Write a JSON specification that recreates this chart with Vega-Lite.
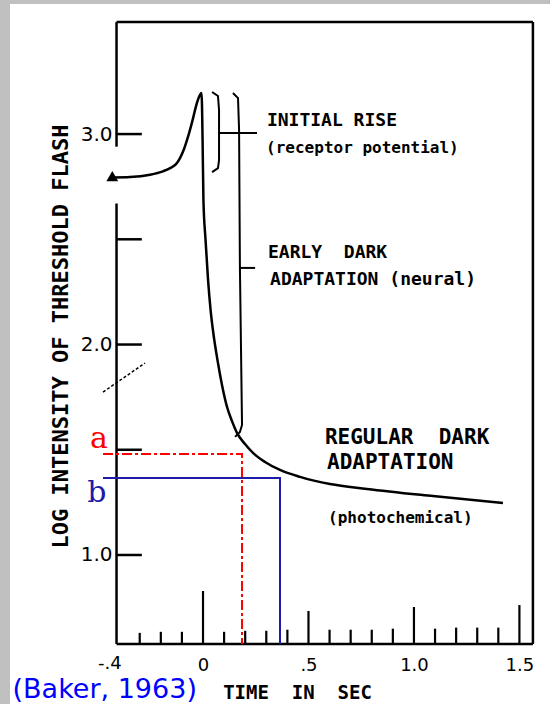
{
  "$schema": "https://vega.github.io/schema/vega-lite/v6.json",
  "width": 540,
  "height": 700,
  "autosize": "none",
  "padding": {"left": 10, "top": 4, "right": 0, "bottom": 0},
  "background": "#c0c0c0",
  "config": {"view": {"fill": "white", "stroke": null}},
  "datasets": {
    "frame": [
      {"x1": -0.41, "x2": 1.564, "y1": 3.532, "y2": 3.532},
      {"x1": -0.41, "x2": 1.564, "y1": 0.577, "y2": 0.577},
      {"x1": 1.564, "x2": 1.564, "y1": 0.577, "y2": 3.532},
      {"x1": -0.41, "x2": -0.41, "y1": 3.532, "y2": 2.94},
      {"x1": -0.41, "x2": -0.41, "y1": 2.67, "y2": 0.577},
      {"x1": -0.41, "x2": -0.29, "y1": 1.0, "y2": 1.0},
      {"x1": -0.41, "x2": -0.29, "y1": 1.5, "y2": 1.5},
      {"x1": -0.41, "x2": -0.29, "y1": 2.0, "y2": 2.0},
      {"x1": -0.41, "x2": -0.29, "y1": 2.5, "y2": 2.5},
      {"x1": -0.41, "x2": -0.29, "y1": 3.0, "y2": 3.0}
    ],
    "xticks": [
      {"t": -0.3, "base": 0.577, "top": 0.63}, {"t": -0.2, "base": 0.577, "top": 0.635}, {"t": -0.1, "base": 0.577, "top": 0.635},
      {"t": 0.0, "base": 0.577, "top": 0.829}, {"t": 0.1, "base": 0.577, "top": 0.635}, {"t": 0.2, "base": 0.577, "top": 0.64},
      {"t": 0.3, "base": 0.577, "top": 0.64}, {"t": 0.4, "base": 0.577, "top": 0.645}, {"t": 0.5, "base": 0.577, "top": 0.734},
      {"t": 0.6, "base": 0.577, "top": 0.645}, {"t": 0.7, "base": 0.577, "top": 0.645}, {"t": 0.8, "base": 0.577, "top": 0.645},
      {"t": 0.9, "base": 0.577, "top": 0.65}, {"t": 1.0, "base": 0.577, "top": 0.753}, {"t": 1.1, "base": 0.577, "top": 0.65},
      {"t": 1.2, "base": 0.577, "top": 0.655}, {"t": 1.3, "base": 0.577, "top": 0.655}, {"t": 1.4, "base": 0.577, "top": 0.655},
      {"t": 1.5, "base": 0.577, "top": 0.762}
    ],
    "firstlabel": [{"t": -0.4, "L": 0.482, "lab": "-.4"}],
    "breakmark": [{"i": 0, "t": -0.474, "L": 1.774}, {"i": 1, "t": -0.275, "L": 1.912}],
    "guides": [
      {"s": "a", "i": 0, "t": -0.474, "L": 1.48},
      {"s": "a", "i": 1, "t": 0.185, "L": 1.48},
      {"s": "a", "i": 2, "t": 0.185, "L": 0.577},
      {"s": "b", "i": 0, "t": -0.474, "L": 1.366},
      {"s": "b", "i": 1, "t": 0.365, "L": 1.366},
      {"s": "b", "i": 2, "t": 0.365, "L": 0.577}
    ],
    "guidelabels": [
      {"s": "a", "t": -0.493, "L": 1.508},
      {"s": "b", "t": -0.503, "L": 1.252}
    ],
    "brackets": [
      {"g": "b1", "i": 0, "t": 0.043, "L": 3.2},
      {"g": "b1", "i": 1, "t": 0.071, "L": 3.181},
      {"g": "b1", "i": 2, "t": 0.076, "L": 3.114},
      {"g": "b1", "i": 3, "t": 0.076, "L": 2.876},
      {"g": "b1", "i": 4, "t": 0.071, "L": 2.838},
      {"g": "b1", "i": 5, "t": 0.043, "L": 2.819},
      {"g": "b1p", "i": 0, "t": 0.071, "L": 3.005},
      {"g": "b1p", "i": 1, "t": 0.256, "L": 3.005},
      {"g": "b2", "i": 0, "t": 0.142, "L": 3.195},
      {"g": "b2", "i": 1, "t": 0.166, "L": 3.171},
      {"g": "b2", "i": 2, "t": 0.171, "L": 3.019},
      {"g": "b2", "i": 3, "t": 0.175, "L": 2.364},
      {"g": "b2", "i": 4, "t": 0.185, "L": 1.618},
      {"g": "b2", "i": 5, "t": 0.175, "L": 1.585},
      {"g": "b2", "i": 6, "t": 0.152, "L": 1.561},
      {"g": "b2p", "i": 0, "t": 0.175, "L": 2.364},
      {"g": "b2p", "i": 1, "t": 0.247, "L": 2.364}
    ],
    "curve": [
      {"t": -0.427, "L": 2.794}, {"t": -0.346, "L": 2.796}, {"t": -0.251, "L": 2.807},
      {"t": -0.19, "L": 2.823}, {"t": -0.156, "L": 2.838}, {"t": -0.128, "L": 2.857},
      {"t": -0.109, "L": 2.886}, {"t": -0.09, "L": 2.929}, {"t": -0.076, "L": 2.971},
      {"t": -0.062, "L": 3.019}, {"t": -0.047, "L": 3.076}, {"t": -0.033, "L": 3.133},
      {"t": -0.019, "L": 3.176}, {"t": -0.007, "L": 3.195}, {"t": -0.002, "L": 2.972},
      {"t": 0.002, "L": 2.687}, {"t": 0.012, "L": 2.497}, {"t": 0.024, "L": 2.306},
      {"t": 0.036, "L": 2.164}, {"t": 0.047, "L": 2.069}, {"t": 0.071, "L": 1.912},
      {"t": 0.09, "L": 1.808}, {"t": 0.114, "L": 1.703}, {"t": 0.137, "L": 1.637},
      {"t": 0.161, "L": 1.58}, {"t": 0.199, "L": 1.527}, {"t": 0.237, "L": 1.485},
      {"t": 0.294, "L": 1.442}, {"t": 0.365, "L": 1.404}, {"t": 0.46, "L": 1.371},
      {"t": 0.602, "L": 1.337}, {"t": 0.777, "L": 1.314}, {"t": 1.09, "L": 1.28},
      {"t": 1.422, "L": 1.247}
    ],
    "start": [{"t": -0.43, "L": 2.80}],
    "capsA": [
      {"txt": "INITIAL RISE", "t": 0.303, "L": 3.062},
      {"txt": "EARLY\u00a0 DARK", "t": 0.308, "L": 2.435},
      {"txt": "ADAPTATION (neural)", "t": 0.318, "L": 2.307}
    ],
    "capsB": [
      {"txt": "REGULAR\u00a0 DARK", "t": 0.578, "L": 1.556},
      {"txt": "ADAPTATION", "t": 0.588, "L": 1.437}
    ],
    "lower": [
      {"txt": "(receptor potential)", "t": 0.299, "L": 2.934},
      {"txt": "(photochemical)", "t": 0.593, "L": 1.176}
    ],
    "source": [{"txt": "(Baker, 1963)", "t": -0.903, "L": 0.358}]
  },
  "layer": [
    {
      "data": {"name": "curve"},
      "mark": {"type": "line", "interpolate": "monotone", "color": "black", "strokeWidth": 2.5},
      "encoding": {
        "x": {
          "field": "t", "type": "quantitative",
          "scale": {"domain": [-0.915, 1.645], "nice": false, "zero": false},
          "axis": {
            "title": "TIME\u00a0 IN\u00a0 SEC",
            "offset": -60,
            "values": [0, 0.5, 1.0, 1.5],
            "labelExpr": "datum.value == 0 ? '0' : datum.value == 0.5 ? '.5' : format(datum.value, '.1f')",
            "domain": false, "ticks": false, "grid": false,
            "labelFont": "DejaVu Sans", "labelFontSize": 18, "labelColor": "black", "labelPadding": 12,
            "labelFlush": false, "labelOverlap": false,
            "titleFont": "DejaVu Sans Mono", "titleFontWeight": "bold", "titleFontSize": 19, "titleColor": "black",
            "titleX": 287, "titlePadding": 9
          }
        },
        "y": {
          "field": "L", "type": "quantitative",
          "scale": {"domain": [0.292, 3.618], "nice": false, "zero": false},
          "axis": {
            "title": "LOG INTENSITY OF THRESHOLD FLASH",
            "offset": -106,
            "values": [1.0, 2.0, 3.0],
            "format": ".1f",
            "domain": false, "ticks": false, "grid": false,
            "labelFont": "DejaVu Sans", "labelFontSize": 20, "labelColor": "black", "labelPadding": 4,
            "titleFont": "DejaVu Sans Mono", "titleFontWeight": "bold", "titleFontSize": 22, "titleColor": "black",
            "titleY": 332, "titlePadding": 8
          }
        }
      }
    },
    {
      "data": {"name": "frame"},
      "mark": {"type": "rule", "color": "black", "strokeWidth": 2.5},
      "encoding": {
        "x": {"field": "x1", "type": "quantitative"},
        "x2": {"field": "x2"},
        "y": {"field": "y1", "type": "quantitative"},
        "y2": {"field": "y2"}
      }
    },
    {
      "data": {"name": "xticks"},
      "mark": {"type": "rule", "color": "black", "strokeWidth": 2.2},
      "encoding": {
        "x": {"field": "t", "type": "quantitative"},
        "y": {"field": "base", "type": "quantitative"},
        "y2": {"field": "top"}
      }
    },
    {
      "data": {"name": "firstlabel"},
      "mark": {"type": "text", "font": "DejaVu Sans", "fontSize": 18, "align": "right", "baseline": "middle", "color": "black", "dx": 3},
      "encoding": {
        "x": {"field": "t", "type": "quantitative"},
        "y": {"field": "L", "type": "quantitative"},
        "text": {"field": "lab", "type": "nominal"}
      }
    },
    {
      "data": {"name": "breakmark"},
      "mark": {"type": "line", "color": "black", "strokeWidth": 1.5, "strokeDash": [3, 2]},
      "encoding": {
        "x": {"field": "t", "type": "quantitative"},
        "y": {"field": "L", "type": "quantitative"},
        "order": {"field": "i", "type": "quantitative"}
      }
    },
    {
      "data": {"name": "guides"},
      "mark": {"type": "line", "strokeWidth": 2},
      "encoding": {
        "x": {"field": "t", "type": "quantitative"},
        "y": {"field": "L", "type": "quantitative"},
        "order": {"field": "i", "type": "quantitative"},
        "color": {"field": "s", "type": "nominal", "scale": {"domain": ["a", "b"], "range": ["#ff0000", "#1c1ca8"]}, "legend": null},
        "strokeDash": {"field": "s", "type": "nominal", "scale": {"domain": ["a", "b"], "range": [[10, 3, 3, 3], [1, 0]]}, "legend": null}
      }
    },
    {
      "data": {"name": "guidelabels"},
      "mark": {"type": "text", "font": "DejaVu Serif", "fontSize": 30, "align": "center", "baseline": "alphabetic"},
      "encoding": {
        "x": {"field": "t", "type": "quantitative"},
        "y": {"field": "L", "type": "quantitative"},
        "text": {"field": "s", "type": "nominal"},
        "color": {"field": "s", "type": "nominal", "legend": null}
      }
    },
    {
      "data": {"name": "brackets"},
      "mark": {"type": "line", "color": "black", "strokeWidth": 2},
      "encoding": {
        "x": {"field": "t", "type": "quantitative"},
        "y": {"field": "L", "type": "quantitative"},
        "detail": {"field": "g", "type": "nominal"},
        "order": {"field": "i", "type": "quantitative"}
      }
    },
    {
      "data": {"name": "start"},
      "mark": {"type": "point", "shape": "triangle-up", "filled": true, "color": "black", "size": 140, "opacity": 1},
      "encoding": {
        "x": {"field": "t", "type": "quantitative"},
        "y": {"field": "L", "type": "quantitative"}
      }
    },
    {
      "data": {"name": "capsA"},
      "mark": {"type": "text", "font": "DejaVu Sans Mono", "fontWeight": "bold", "fontSize": 18, "align": "left", "baseline": "middle", "color": "black"},
      "encoding": {
        "x": {"field": "t", "type": "quantitative"},
        "y": {"field": "L", "type": "quantitative"},
        "text": {"field": "txt", "type": "nominal"}
      }
    },
    {
      "data": {"name": "capsB"},
      "mark": {"type": "text", "font": "DejaVu Sans Mono", "fontWeight": "bold", "fontSize": 21, "align": "left", "baseline": "middle", "color": "black"},
      "encoding": {
        "x": {"field": "t", "type": "quantitative"},
        "y": {"field": "L", "type": "quantitative"},
        "text": {"field": "txt", "type": "nominal"}
      }
    },
    {
      "data": {"name": "lower"},
      "mark": {"type": "text", "font": "DejaVu Sans Mono", "fontWeight": "bold", "fontSize": 16, "align": "left", "baseline": "middle", "color": "black"},
      "encoding": {
        "x": {"field": "t", "type": "quantitative"},
        "y": {"field": "L", "type": "quantitative"},
        "text": {"field": "txt", "type": "nominal"}
      }
    },
    {
      "data": {"name": "source"},
      "mark": {"type": "text", "font": "DejaVu Sans", "fontSize": 27, "align": "left", "baseline": "middle", "color": "#0000ff"},
      "encoding": {
        "x": {"field": "t", "type": "quantitative"},
        "y": {"field": "L", "type": "quantitative"},
        "text": {"field": "txt", "type": "nominal"}
      }
    }
  ]
}
